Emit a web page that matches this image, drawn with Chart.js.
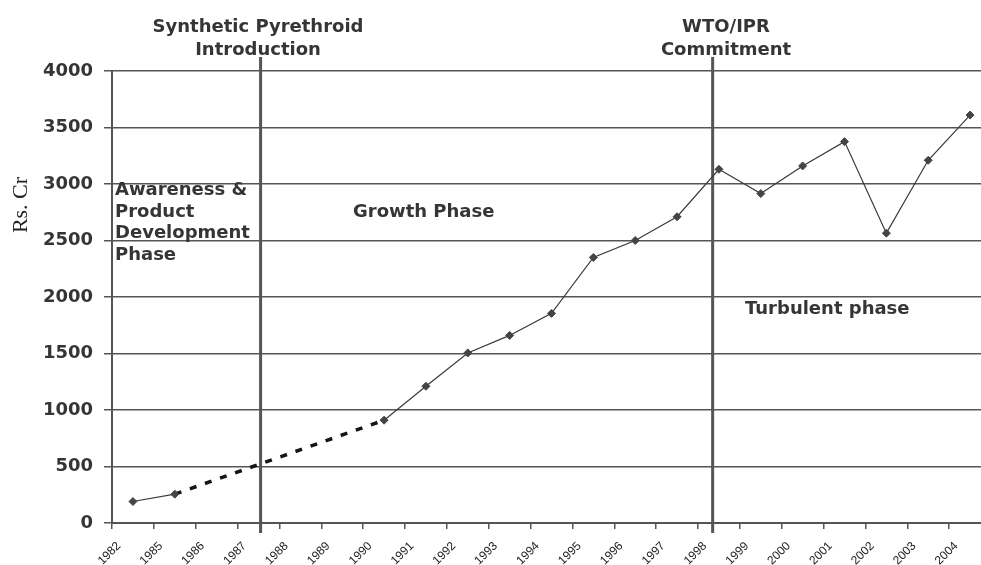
<!DOCTYPE html>
<html>
<head>
<meta charset="utf-8">
<script src="https://cdn.jsdelivr.net/npm/chart.js@4.4.1/dist/chart.umd.min.js"></script>
<style>
    html, body { margin: 0; padding: 0; background: #fff; overflow: hidden; }
    #wrap { width: 1000px; height: 565px; position: relative; }
</style>
</head>
<body>
<div id="wrap"><canvas id="myChart"></canvas></div>
<script>
// Pesticide market size (Rs. Cr) by year

const years = ['1982', '1985', '1986', '1987', '1988', '1989', '1990', '1991', '1992', '1993', '1994',
               '1995', '1996', '1997', '1998', '1999', '2000', '2001', '2002', '2003', '2004'];

// measured years (1986-1989 have no reading)
const marketValue = [190, 255, null, null, null, null, 910, 1210, 1505, 1660, 1855,
                     2350, 2500, 2710, 3130, 2915, 3160, 3375, 2565, 3210, 3610];

// dashed bridge between the 1985 and 1990 readings
const bridgeValue = [null, 255, null, null, null, null, 910, null, null, null, null,
                     null, null, null, null, null, null, null, null, null, null];

const yTicks = [0, 500, 1000, 1500, 2000, 2500, 3000, 3500, 4000];

// event lines (category positions) and their captions
const events = [
    { at: 3.05, lines: ['Synthetic Pyrethroid', 'Introduction'], cx: 258 },
    { at: 13.85, lines: ['WTO/IPR', 'Commitment'], cx: 726 }
];

const phaseNotes = [
    { text: 'Awareness &', x: 115, y: 195 },
    { text: 'Product', x: 115, y: 217 },
    { text: 'Development', x: 115, y: 238 },
    { text: 'Phase', x: 115, y: 260 },
    { text: 'Growth Phase', x: 353, y: 217 },
    { text: 'Turbulent phase', x: 745, y: 314 }
];

const boldFont = 'bold 18px "DejaVu Sans", Verdana, sans-serif';
const textColor = '#353535';

const eventLines = {
    id: 'eventLines',
    beforeDatasetsDraw(chart) {
        const { ctx, chartArea, scales } = chart;
        ctx.save();
        ctx.strokeStyle = '#555';
        ctx.lineWidth = 3;
        events.forEach(ev => {
            const x = scales.x.getPixelForValue(ev.at);
            ctx.beginPath();
            ctx.moveTo(x, chartArea.top - 14);
            ctx.lineTo(x, chartArea.bottom + 10);
            ctx.stroke();
        });
        ctx.restore();
    },
    afterDraw(chart) {
        const { ctx } = chart;
        ctx.save();
        ctx.fillStyle = textColor;
        ctx.font = boldFont;
        ctx.textBaseline = 'alphabetic';

        // captions over the event lines
        ctx.textAlign = 'center';
        events.forEach(ev => {
            ctx.fillText(ev.lines[0], ev.cx, 32);
            ctx.fillText(ev.lines[1], ev.cx, 55);
        });

        // phase labels
        ctx.textAlign = 'left';
        phaseNotes.forEach(n => ctx.fillText(n.text, n.x, n.y));

        // y axis title
        ctx.font = '22px "Liberation Serif", "Times New Roman", serif';
        ctx.fillStyle = '#222';
        ctx.translate(21, 205);
        ctx.rotate(-Math.PI / 2);
        ctx.textAlign = 'center';
        ctx.textBaseline = 'middle';
        ctx.fillText('Rs. Cr', 0, 0);
        ctx.restore();
    }
};

const ctx = document.getElementById('myChart');
const myChart = new Chart(ctx, {
    type: 'line',
    data: {
        labels: years,
        datasets: [{
            label: 'Market',
            data: marketValue,
            borderColor: '#3a3a3a',
            borderWidth: 1.2,
            pointStyle: 'rectRot',
            pointRadius: 4,
            pointBackgroundColor: '#444',
            pointBorderColor: '#444',
            pointBorderWidth: 1,
            spanGaps: false,
            tension: 0
        },
        {
            label: 'Bridge',
            data: bridgeValue,
            borderColor: '#151515',
            borderWidth: 3.5,
            borderDash: [7, 9],
            pointRadius: 0,
            spanGaps: true,
            tension: 0
        }]
    },
    options: {
        responsive: true,
        maintainAspectRatio: false,
        animation: false,
        layout: {
            padding: { top: 71, right: 9, left: 0, bottom: 0 }
        },
        scales: {
            x: {
                offset: true,
                afterFit: (scale) => { scale.height = 42; },
                grid: {
                    offset: true,
                    drawOnChartArea: false,
                    drawTicks: true,
                    tickLength: 6,
                    color: '#555',
                    lineWidth: 1.5
                },
                border: { color: '#555', width: 2 },
                ticks: {
                    autoSkip: false,
                    minRotation: 45,
                    maxRotation: 45,
                    labelOffset: -14,
                    padding: 10,
                    color: '#222',
                    font: { family: '"Liberation Sans", Arial, sans-serif', size: 12 }
                }
            },
            y: {
                min: 0,
                max: 4000,
                afterFit: (scale) => { scale.width = 112; },
                afterBuildTicks: (scale) => { scale.ticks = yTicks.map(v => ({ value: v })); },
                grid: {
                    color: '#555',
                    lineWidth: 1.5,
                    tickLength: 8
                },
                border: { color: '#555', width: 2 },
                ticks: {
                    padding: 11,
                    color: textColor,
                    callback: (value) => String(value),
                    font: { family: '"DejaVu Sans", Verdana, sans-serif', size: 18, weight: 'bold' }
                }
            }
        },
        plugins: {
            legend: { display: false },
            title: { display: false },
            tooltip: { enabled: false }
        }
    },
    plugins: [eventLines]
});
</script>
</body>
</html>
